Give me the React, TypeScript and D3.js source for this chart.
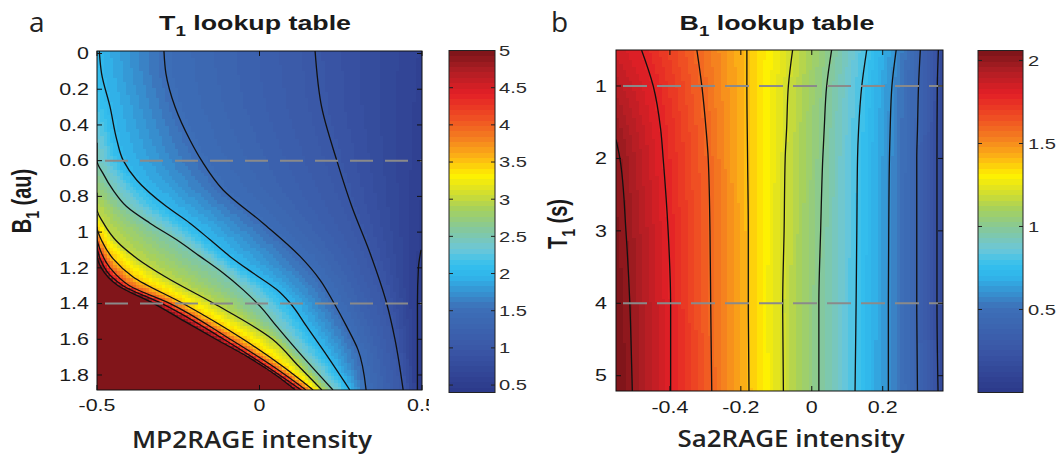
import React from "react";
import * as d3 from "d3";

const W = 1064;
const H = 455;
const SX = 1.34; // horizontal stretch of the original MATLAB figure text

// ---------- colormap (printed jet) ----------
const CMAP_POS = [0, 0.125, 0.25, 0.34, 0.375, 0.42, 0.48, 0.54, 0.6, 0.635, 0.69, 0.75, 0.81, 0.875, 0.94, 1];
const CMAP_COLORS = ["#2b3889", "#3a56a6", "#3d70b8", "#30b4ea", "#34c0ee", "#6cc7d8", "#85c89a", "#a8d15a", "#e2e31f", "#fff200", "#fcb315", "#f47b20", "#ef4b23", "#e31f26", "#b01e24", "#7a1418"];
const N_COLORS = 64;

// ---------- panel a : T1 lookup table ----------
const MP2RAGE_DOMAIN = [-0.5, 0.5];
const B1_DOMAIN = [-0.014, 1.884];
const MP2RAGE_TICKS = [-0.5, 0, 0.5];
const B1_TICKS = [0, 0.2, 0.4, 0.6, 0.8, 1, 1.2, 1.4, 1.6, 1.8];
const T1_CBAR_DOMAIN = [0.4, 5];
const T1_CBAR_TICKS = [0.5, 1, 1.5, 2, 2.5, 3, 3.5, 4, 4.5, 5];
const B1_GUIDES = [0.6, 1.4];
const T1_LEVELS = [0.5, 1, 1.5, 2, 2.5, 3, 3.5, 4, 4.5, 5];
// contour lines: [B1, MP2RAGE intensity]
const T1_C05 = [[1.1, 0.497], [1.2, 0.489], [1.4, 0.486], [1.884, 0.486]];
const T1_C10 = [[-0.014, 0.171], [0.298, 0.191], [0.6, 0.238], [0.857, 0.284], [1.117, 0.34], [1.397, 0.391], [1.602, 0.417], [1.884, 0.442]];
const T1_C15 = [[-0.014, -0.294], [0.111, -0.288], [0.298, -0.26], [0.484, -0.214], [0.6, -0.178], [0.764, -0.112], [0.95, 0.011], [1.136, 0.125], [1.267, 0.186], [1.397, 0.229], [1.528, 0.268], [1.658, 0.303], [1.884, 0.328]];
const T1_C20 = [[-0.014, -0.493], [0.111, -0.486], [0.298, -0.46], [0.484, -0.439], [0.6, -0.419], [0.708, -0.378], [0.857, -0.286], [0.95, -0.214], [1.043, -0.152], [1.136, -0.091], [1.229, -0.02], [1.322, 0.053], [1.397, 0.094], [1.528, 0.145], [1.658, 0.195], [1.884, 0.278]];
const T1_C25 = [[0.5, -0.5], [0.6, -0.5], [0.67, -0.482], [0.764, -0.451], [0.857, -0.409], [0.95, -0.337], [1.043, -0.255], [1.136, -0.183], [1.229, -0.112], [1.322, -0.051], [1.416, 0.002], [1.528, 0.053], [1.658, 0.114], [1.884, 0.226]];
const T1_C30 = [[0.78, -0.5], [0.87, -0.5], [0.95, -0.48], [1.05, -0.44], [1.15, -0.375], [1.25, -0.29], [1.4, -0.14], [1.6, 0.04], [1.75, 0.12], [1.884, 0.192]];
const T1_C35 = [[0.9, -0.5], [0.97, -0.5], [1.05, -0.485], [1.15, -0.45], [1.25, -0.39], [1.4, -0.235], [1.6, -0.05], [1.75, 0.07], [1.884, 0.165]];
const T1_C40 = [[0.97, -0.5], [1.03, -0.5], [1.1, -0.49], [1.2, -0.46], [1.3, -0.4], [1.4, -0.275], [1.6, -0.09], [1.75, 0.04], [1.884, 0.143]];
const T1_C45 = [[1.02, -0.5], [1.07, -0.5], [1.15, -0.49], [1.25, -0.455], [1.3, -0.42], [1.4, -0.3], [1.6, -0.11], [1.75, 0.02], [1.884, 0.128]];
const T1_C50 = [[1.07, -0.5], [1.12, -0.5], [1.2, -0.487], [1.3, -0.435], [1.4, -0.325], [1.5, -0.23], [1.6, -0.134], [1.7, -0.035], [1.8, 0.05], [1.884, 0.11]];
const T1_LEFT_EDGE = [[-0.014, 2.04], [0.3, 2.2], [0.6, 2.5], [0.87, 3.0], [0.97, 3.5], [1.03, 4.0], [1.07, 4.5], [1.12, 5.0], [1.2, 5.6], [1.884, 8]];
const T1_RIGHT_EDGE = [[-0.014, 0.6], [0.6, 0.56], [1.1, 0.5], [1.884, 0.45]];

// ---------- panel b : B1 lookup table ----------
const SA2RAGE_DOMAIN = [-0.552, 0.37];
const T1_DOMAIN = [0.503, 5.211];
const SA2RAGE_TICKS = [-0.4, -0.2, 0, 0.2];
const T1_TICKS = [1, 2, 3, 4, 5];
const B1_CBAR_DOMAIN = [0, 2.06];
const B1_CBAR_TICKS = [0.5, 1, 1.5, 2];
const T1_GUIDES = [1, 4];
const B1_LEVELS = [0.2, 0.4, 0.6, 0.8, 1.0, 1.2, 1.4, 1.6, 1.8, 2.0];
// contour lines: [T1, Sa2RAGE intensity]
const B1_C02 = [[0.503, 0.357], [1.0, 0.354], [2.0, 0.353], [4.0, 0.353], [5.211, 0.356]];
const B1_C04 = [[0.503, 0.306], [1.0, 0.301], [1.6, 0.298], [2.0, 0.296], [3.0, 0.296], [4.0, 0.296], [5.211, 0.298]];
const B1_C06 = [[0.503, 0.238], [1.0, 0.226], [1.6, 0.221], [2.0, 0.219], [3.0, 0.217], [4.0, 0.216], [5.211, 0.216]];
const B1_C08 = [[0.503, 0.155], [1.0, 0.141], [1.6, 0.132], [2.0, 0.129], [3.0, 0.127], [4.0, 0.125], [5.211, 0.122]];
const B1_C10 = [[0.503, 0.056], [1.0, 0.042], [1.6, 0.035], [2.0, 0.031], [3.0, 0.025], [4.0, 0.02], [5.211, 0.02]];
const B1_C12 = [[0.503, -0.054], [1.0, -0.066], [1.6, -0.071], [2.0, -0.075], [3.0, -0.078], [4.0, -0.082], [5.211, -0.08]];
const B1_C14 = [[0.503, -0.183], [1.0, -0.183], [2.0, -0.181], [3.0, -0.179], [4.0, -0.179], [5.211, -0.177]];
const B1_C16 = [[0.503, -0.324], [1.0, -0.31], [1.6, -0.298], [2.0, -0.292], [3.0, -0.287], [4.0, -0.285], [5.211, -0.282]];
const B1_C18 = [[0.503, -0.48], [1.0, -0.447], [1.6, -0.426], [2.0, -0.419], [3.0, -0.405], [4.0, -0.398], [5.211, -0.398]];
const B1_C20 = [[1.74, -0.552], [2.0, -0.541], [3.0, -0.524], [4.0, -0.513], [4.83, -0.508], [5.211, -0.506]];
const B1_LEFT_EDGE = [[0.503, 1.85], [1.0, 1.92], [1.74, 2.0], [3.0, 2.04], [5.211, 2.07]];
const B1_RIGHT_EDGE = [[0.503, 0.13], [5.211, 0.13]];

type Contour = { level: number; pts: number[][] };

const T1_CONTOURS: Contour[] = [T1_C05, T1_C10, T1_C15, T1_C20, T1_C25, T1_C30, T1_C35, T1_C40, T1_C45, T1_C50].map((pts, i) => ({ level: T1_LEVELS[i], pts }));
const B1_CONTOURS: Contour[] = [B1_C02, B1_C04, B1_C06, B1_C08, B1_C10, B1_C12, B1_C14, B1_C16, B1_C18, B1_C20].map((pts, i) => ({ level: B1_LEVELS[i], pts }));

const cmap = d3
  .scaleLinear<string>()
  .domain(CMAP_POS)
  .range(CMAP_COLORS)
  .interpolate(d3.interpolateRgb)
  .clamp(true);

function colorFor(v: number, dom: number[]) {
  const f = (v - dom[0]) / (dom[1] - dom[0]);
  const idx = Math.max(0, Math.min(N_COLORS - 1, Math.floor(f * N_COLORS)));
  return cmap((idx + 0.5) / N_COLORS);
}

function interpLine(pts: number[][], r: number): number | null {
  const n = pts.length;
  if (r < pts[0][0] || r > pts[n - 1][0]) return null;
  for (let i = 0; i < n - 1; i++) {
    const [r0, x0] = pts[i];
    const [r1, x1] = pts[i + 1];
    if (r >= r0 && r <= r1) {
      const t = r1 === r0 ? 0 : (r - r0) / (r1 - r0);
      return x0 + t * (x1 - x0);
    }
  }
  return pts[n - 1][1];
}

function edgeAt(pts: number[][], r: number): number {
  if (r <= pts[0][0]) return pts[0][1];
  if (r >= pts[pts.length - 1][0]) return pts[pts.length - 1][1];
  return interpLine(pts, r) as number;
}

function rowKnots(contours: Contour[], left: number[][], right: number[][], xd: number[], r: number) {
  const k: number[][] = [[xd[0], edgeAt(left, r)]];
  for (const c of contours) {
    const xi = interpLine(c.pts, r);
    if (xi !== null && xi > xd[0] && xi < xd[1]) k.push([xi, c.level]);
  }
  k.push([xd[1], edgeAt(right, r)]);
  k.sort((a, b) => a[0] - b[0]);
  return k;
}

function evalKnots(k: number[][], x: number) {
  for (let i = 0; i < k.length - 1; i++) {
    if (x <= k[i + 1][0]) {
      const t = (x - k[i][0]) / (k[i + 1][0] - k[i][0] || 1);
      return k[i][1] + t * (k[i + 1][1] - k[i][1]);
    }
  }
  return k[k.length - 1][1];
}

type PanelCfg = {
  id: string;
  xDomain: number[];
  yDomain: number[];
  xRange: number[];
  yRange: number[];
  xTicks: number[];
  yTicks: number[];
  contours: Contour[];
  left: number[][];
  right: number[][];
  cDomain: number[];
  cTicks: number[];
  cbarX: number[];
  cbarY: number[];
  guides: number[];
  guideDash: string;
  guideStart: number;
  yTickLabelX: number;
  xTickLabelY: number;
  cbarLabelX: number;
  nx: number;
  ny: number;
};

function fmt(v: number) {
  return String(+v.toFixed(2));
}

function MText(props: {
  x: number; y: number; anchor?: string; size?: number; weight?: number | string; rotate?: boolean; fill?: string; dy?: string; children: React.ReactNode; clipPath?: string;
}) {
  const { x, y, anchor = "middle", size = 16, weight = 400, rotate = false, fill = "#1a1a1a", dy, children, clipPath } = props;
  return (
    <g clipPath={clipPath}>
      <text
        transform={`translate(${x},${y}) scale(${SX},1)${rotate ? " rotate(-90)" : ""}`}
        textAnchor={anchor as any}
        fontFamily="'Liberation Sans', Arial, sans-serif"
        fontSize={size}
        fontWeight={weight}
        fill={fill}
        dy={dy}
      >
        {children}
      </text>
    </g>
  );
}

function Panel({ cfg }: { cfg: PanelCfg }) {
  const xs = d3.scaleLinear().domain(cfg.xDomain).range(cfg.xRange);
  const ys = d3.scaleLinear().domain(cfg.yDomain).range(cfg.yRange);
  const cs = d3.scaleLinear().domain(cfg.cDomain).range([cfg.cbarY[1], cfg.cbarY[0]]);

  // heatmap cells (merged runs of equal colour per row)
  const cells: React.ReactNode[] = [];
  const dx = (cfg.xDomain[1] - cfg.xDomain[0]) / cfg.nx;
  const dyv = (cfg.yDomain[1] - cfg.yDomain[0]) / cfg.ny;
  for (let j = 0; j < cfg.ny; j++) {
    const r = cfg.yDomain[0] + (j + 0.5) * dyv;
    const k = rowKnots(cfg.contours, cfg.left, cfg.right, cfg.xDomain, r);
    const y0 = ys(cfg.yDomain[0] + j * dyv);
    const y1 = ys(cfg.yDomain[0] + (j + 1) * dyv);
    let runStart = 0;
    let runColor = "";
    for (let i = 0; i <= cfg.nx; i++) {
      const col = i < cfg.nx ? colorFor(evalKnots(k, cfg.xDomain[0] + (i + 0.5) * dx), cfg.cDomain) : "";
      if (i === 0) {
        runColor = col;
        continue;
      }
      if (col !== runColor) {
        const x0 = xs(cfg.xDomain[0] + runStart * dx);
        const x1 = xs(cfg.xDomain[0] + i * dx);
        cells.push(
          <rect key={`${j}-${runStart}`} x={x0} y={y0} width={x1 - x0 + 0.6} height={y1 - y0 + 0.6} fill={runColor} />
        );
        runStart = i;
        runColor = col;
      }
    }
  }

  const line = d3
    .line<number[]>()
    .x((d) => xs(d[1]))
    .y((d) => ys(d[0]))
    .curve(d3.curveMonotoneY);

  const [px0, px1] = cfg.xRange;
  const [py0, py1] = cfg.yRange;
  const tl = 5;

  // colorbar bands
  const bands: React.ReactNode[] = [];
  for (let b = 0; b < N_COLORS; b++) {
    const v0 = cfg.cDomain[0] + (b / N_COLORS) * (cfg.cDomain[1] - cfg.cDomain[0]);
    const v1 = cfg.cDomain[0] + ((b + 1) / N_COLORS) * (cfg.cDomain[1] - cfg.cDomain[0]);
    bands.push(
      <rect key={b} x={cfg.cbarX[0]} y={cs(v1)} width={cfg.cbarX[1] - cfg.cbarX[0]} height={cs(v0) - cs(v1) + 0.6} fill={cmap((b + 0.5) / N_COLORS)} />
    );
  }

  return (
    <g>
      <defs>
        <clipPath id={`clip-${cfg.id}`}>
          <rect x={px0} y={py0} width={px1 - px0} height={py1 - py0} />
        </clipPath>
      </defs>
      <g clipPath={`url(#clip-${cfg.id})`} shapeRendering="crispEdges">
        {cells}
      </g>
      <g clipPath={`url(#clip-${cfg.id})`}>
        {cfg.contours.map((c) => (
          <path key={c.level} d={line(c.pts) || ""} fill="none" stroke="#111" strokeWidth={1.3} />
        ))}
        {cfg.guides.map((g) => (
          <line
            key={g}
            x1={cfg.guideStart}
            x2={px1}
            y1={ys(g)}
            y2={ys(g)}
            stroke="#8a8a8a"
            strokeWidth={2}
            strokeDasharray={cfg.guideDash}
          />
        ))}
      </g>
      {/* axes box */}
      <rect x={px0} y={py0} width={px1 - px0} height={py1 - py0} fill="none" stroke="#111" strokeWidth={1} />
      {cfg.xTicks.map((t) => (
        <g key={`xt${t}`}>
          <line x1={xs(t)} x2={xs(t)} y1={py1} y2={py1 - tl} stroke="#111" />
          <line x1={xs(t)} x2={xs(t)} y1={py0} y2={py0 + tl} stroke="#111" />
        </g>
      ))}
      {cfg.yTicks.map((t) => (
        <g key={`yt${t}`}>
          <line x1={px0} x2={px0 + tl} y1={ys(t)} y2={ys(t)} stroke="#111" />
          <line x1={px1} x2={px1 - tl} y1={ys(t)} y2={ys(t)} stroke="#111" />
        </g>
      ))}
      {cfg.yTicks.map((t) => (
        <MText key={`yl${t}`} x={cfg.yTickLabelX} y={ys(t)} anchor="end" dy="0.36em">
          {fmt(t)}
        </MText>
      ))}
      {cfg.xTicks.map((t) => (
        <MText key={`xl${t}`} x={xs(t)} y={cfg.xTickLabelY} clipPath={`url(#lblclip-${cfg.id})`}>
          {fmt(t)}
        </MText>
      ))}
      {/* colorbar */}
      <g shapeRendering="crispEdges">{bands}</g>
      <rect
        x={cfg.cbarX[0]}
        y={cfg.cbarY[0]}
        width={cfg.cbarX[1] - cfg.cbarX[0]}
        height={cfg.cbarY[1] - cfg.cbarY[0]}
        fill="none"
        stroke="#222"
      />
      {cfg.cTicks.map((t) => (
        <g key={`ct${t}`}>
          <line x1={cfg.cbarX[0]} x2={cfg.cbarX[0] + 4} y1={cs(t)} y2={cs(t)} stroke="#222" />
          <line x1={cfg.cbarX[1]} x2={cfg.cbarX[1] - 4} y1={cs(t)} y2={cs(t)} stroke="#222" />
          <MText x={cfg.cbarLabelX} y={cs(t)} anchor="start" size={15} dy="0.36em" fill="#2a2a2a">
            {fmt(t)}
          </MText>
        </g>
      ))}
    </g>
  );
}

const PANEL_A: PanelCfg = {
  id: "a",
  xDomain: MP2RAGE_DOMAIN,
  yDomain: B1_DOMAIN,
  xRange: [97, 422],
  yRange: [51, 390],
  xTicks: MP2RAGE_TICKS,
  yTicks: B1_TICKS,
  contours: T1_CONTOURS,
  left: T1_LEFT_EDGE,
  right: T1_RIGHT_EDGE,
  cDomain: T1_CBAR_DOMAIN,
  cTicks: T1_CBAR_TICKS,
  cbarX: [449, 495],
  cbarY: [50.5, 392.5],
  guides: B1_GUIDES,
  guideDash: "23 12",
  guideStart: 105,
  yTickLabelX: 89,
  xTickLabelY: 410.5,
  cbarLabelX: 499,
  nx: 100,
  ny: 100,
};

const PANEL_B: PanelCfg = {
  id: "b",
  xDomain: SA2RAGE_DOMAIN,
  yDomain: T1_DOMAIN,
  xRange: [616, 943],
  yRange: [50, 391],
  xTicks: SA2RAGE_TICKS,
  yTicks: T1_TICKS,
  contours: B1_CONTOURS,
  left: B1_LEFT_EDGE,
  right: B1_RIGHT_EDGE,
  cDomain: B1_CBAR_DOMAIN,
  cTicks: B1_CBAR_TICKS,
  cbarX: [978, 1023],
  cbarY: [50.5, 392.5],
  guides: T1_GUIDES,
  guideDash: "24 10",
  guideStart: 623,
  yTickLabelX: 607,
  xTickLabelY: 412.5,
  cbarLabelX: 1028,
  nx: 100,
  ny: 100,
};

export default function App() {
  const calibri = "'Open Sans', 'Noto Sans', sans-serif";
  return (
    <svg width={W} height={H} style={{ position: "absolute", left: 0, top: 0, background: "#fff" }}>
      <defs>
        <clipPath id="lblclip-a">
          <rect x={0} y={0} width={429} height={H} />
        </clipPath>
        <clipPath id="lblclip-b">
          <rect x={0} y={0} width={W} height={H} />
        </clipPath>
      </defs>
      <rect x={0} y={0} width={W} height={H} fill="#fff" />
      <Panel cfg={PANEL_A} />
      <Panel cfg={PANEL_B} />

      {/* panel letters */}
      <text x={29} y={32} fontFamily={calibri} fontSize={28} fill="#222">a</text>
      <text x={551} y={32} fontFamily={calibri} fontSize={28} fill="#222">b</text>

      {/* titles */}
      <MText x={255} y={30} size={20} weight={700}>
        T<tspan fontSize={14} dy={6}>1</tspan>
        <tspan dy={-6}> lookup table</tspan>
      </MText>
      <MText x={777} y={30} size={20} weight={700}>
        B<tspan fontSize={14} dy={6}>1</tspan>
        <tspan dy={-6}> lookup table</tspan>
      </MText>

      {/* y labels */}
      <MText x={31} y={201} size={20} weight={700} rotate>
        B<tspan fontSize={14} dy={6}>1</tspan>
        <tspan dy={-6}> (au)</tspan>
      </MText>
      <MText x={567} y={224} size={20} weight={700} rotate>
        T<tspan fontSize={14} dy={6}>1</tspan>
        <tspan dy={-6}> (s)</tspan>
      </MText>

      {/* x labels */}
      <text x={252} y={448} textAnchor="middle" fontFamily={calibri} fontWeight={600} fontSize={24} fill="#222" textLength={240} lengthAdjust="spacingAndGlyphs">
        MP2RAGE intensity
      </text>
      <text x={791} y={447} textAnchor="middle" fontFamily={calibri} fontWeight={600} fontSize={24} fill="#222" textLength={227} lengthAdjust="spacingAndGlyphs">
        Sa2RAGE intensity
      </text>
    </svg>
  );
}
